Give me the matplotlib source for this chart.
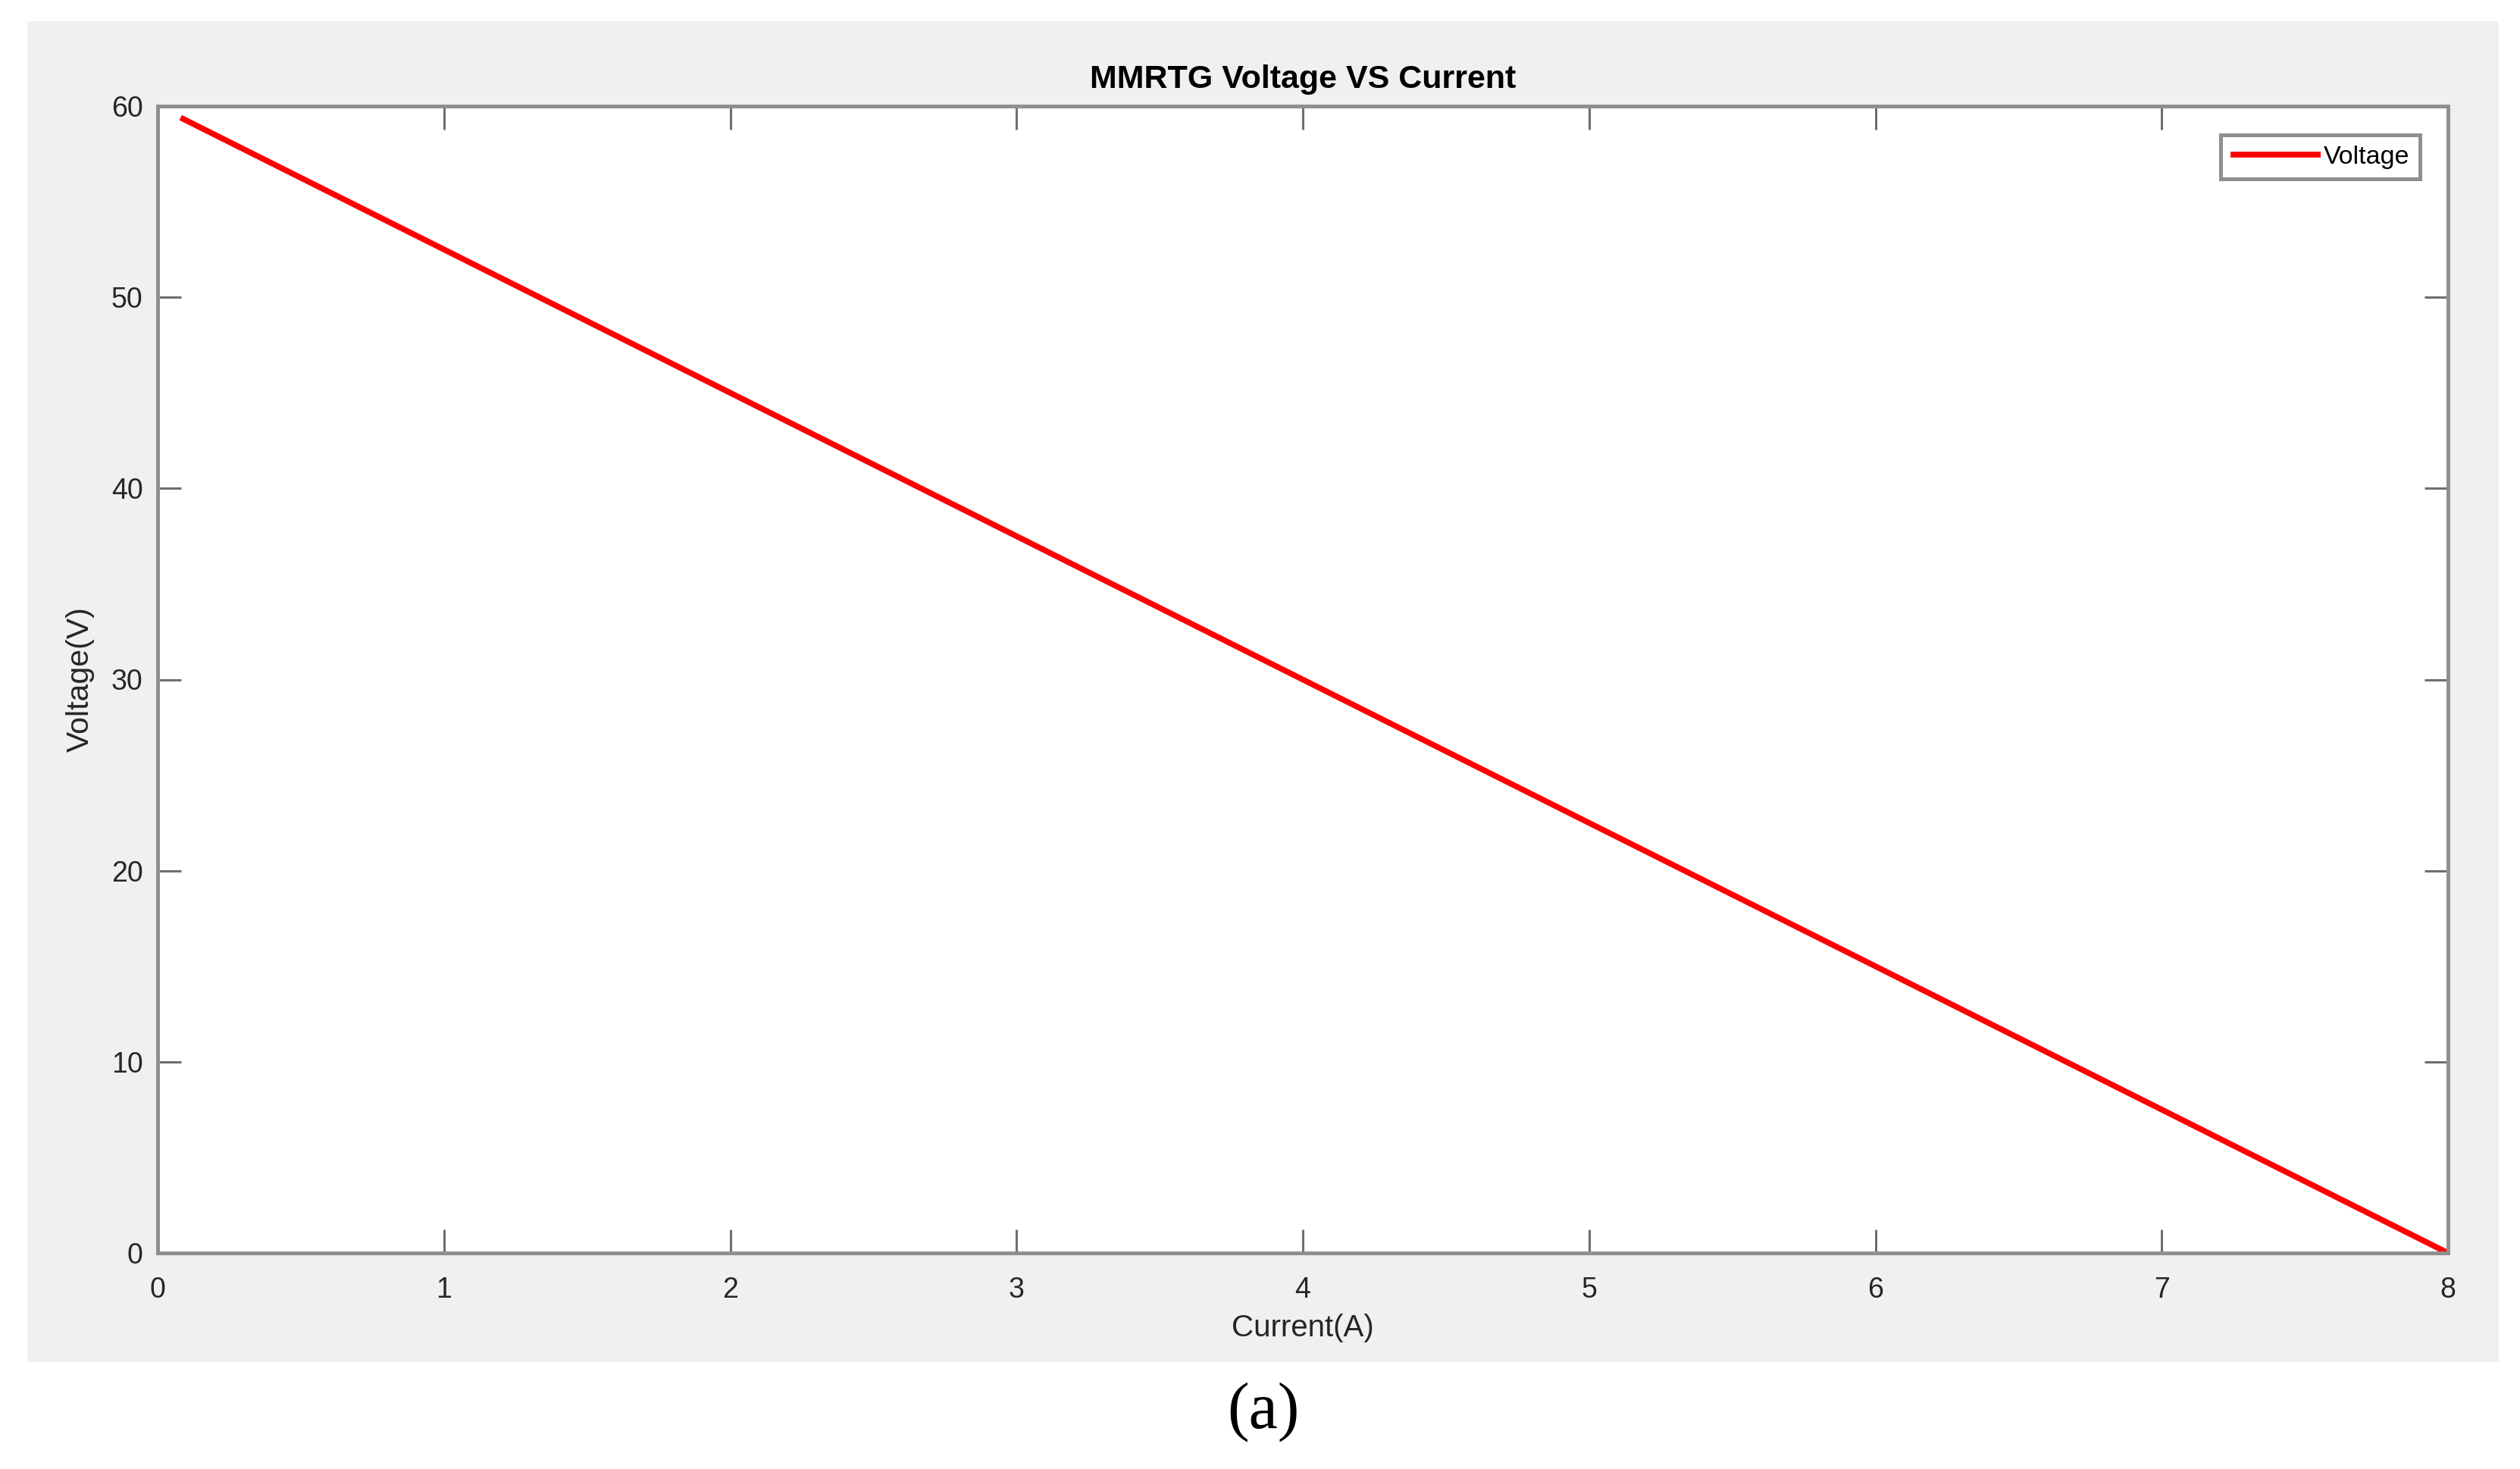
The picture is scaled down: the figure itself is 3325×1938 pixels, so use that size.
import matplotlib
matplotlib.use("Agg")
import matplotlib.pyplot as plt
from matplotlib.patches import Rectangle

# Data
current = [0.08, 4.0, 8.0]
voltage = [59.4, 30.0, 0.0]
x_ticks = [0, 1, 2, 3, 4, 5, 6, 7, 8]
y_ticks = [0, 10, 20, 30, 40, 50, 60]

W, H = 3325, 1938
DPI = 100
plt.rcParams['font.family'] = ['Liberation Sans', 'DejaVu Sans']

fig = plt.figure(figsize=(W / DPI, H / DPI), dpi=DPI, facecolor='white')

def fx(px):
    return px / W

def fy(py):
    return 1 - py / H

# gray panel
fig.patches.append(Rectangle((fx(36), fy(1797)), fx(3297) - fx(36), fy(28) - fy(1797),
                             transform=fig.transFigure, facecolor='#f0f0f0',
                             edgecolor='none', zorder=-10))

ax = fig.add_axes([fx(208), fy(1653), fx(3230) - fx(208), fy(140) - fy(1653)])
ax.set_zorder(5)
ax.set_facecolor('white')
ax.plot(current, voltage, color='#ff0000', lw=5.5, label='Voltage', solid_capstyle='butt')
ax.set_xlim(0, 8)
ax.set_ylim(0, 60)
ax.set_xticks(x_ticks)
ax.set_yticks(y_ticks)
ax.set_xticklabels([str(t) for t in x_ticks])
ax.set_yticklabels([str(t) for t in y_ticks])

spine_c = '#8f8f8f'
for s in ax.spines.values():
    s.set_color(spine_c)
    s.set_linewidth(3.6)
ax.tick_params(axis='both', direction='in', length=22, width=2.2, color='#6f6f6f',
               labelsize=27, labelcolor='#262626', top=True, right=True)
ax.tick_params(axis='y', pad=14)
ax.tick_params(axis='x', pad=22)

ax.set_xlabel('Current(A)', fontsize=29, color='#262626', labelpad=10)
ax.set_ylabel('Voltage(V)', fontsize=29.5, color='#262626', labelpad=16)

fig.text(0.5 * (fx(208) + fx(3230)), fy(105), 'MMRTG Voltage VS Current',
         ha='center', va='center', fontsize=31, fontweight='bold', color='black', zorder=6)

leg = ax.legend(loc='upper right', bbox_to_anchor=((3193 - 208) / 3022, (1653 - 178) / 1513),
                borderaxespad=0, fontsize=24.5, frameon=True, fancybox=False,
                handlelength=3.5, handletextpad=0.1, borderpad=0.4)
leg.get_frame().set_edgecolor(spine_c)
leg.get_frame().set_linewidth(3.6)
leg.get_frame().set_facecolor('white')
leg.get_frame().set_alpha(1)

fig.text(fx(1667), fy(1863), '(a)', ha='center', va='center', fontsize=62,
         family=['Liberation Serif', 'DejaVu Serif'], color='black', zorder=6)

fig.savefig('out.png', dpi=DPI, facecolor='white')
